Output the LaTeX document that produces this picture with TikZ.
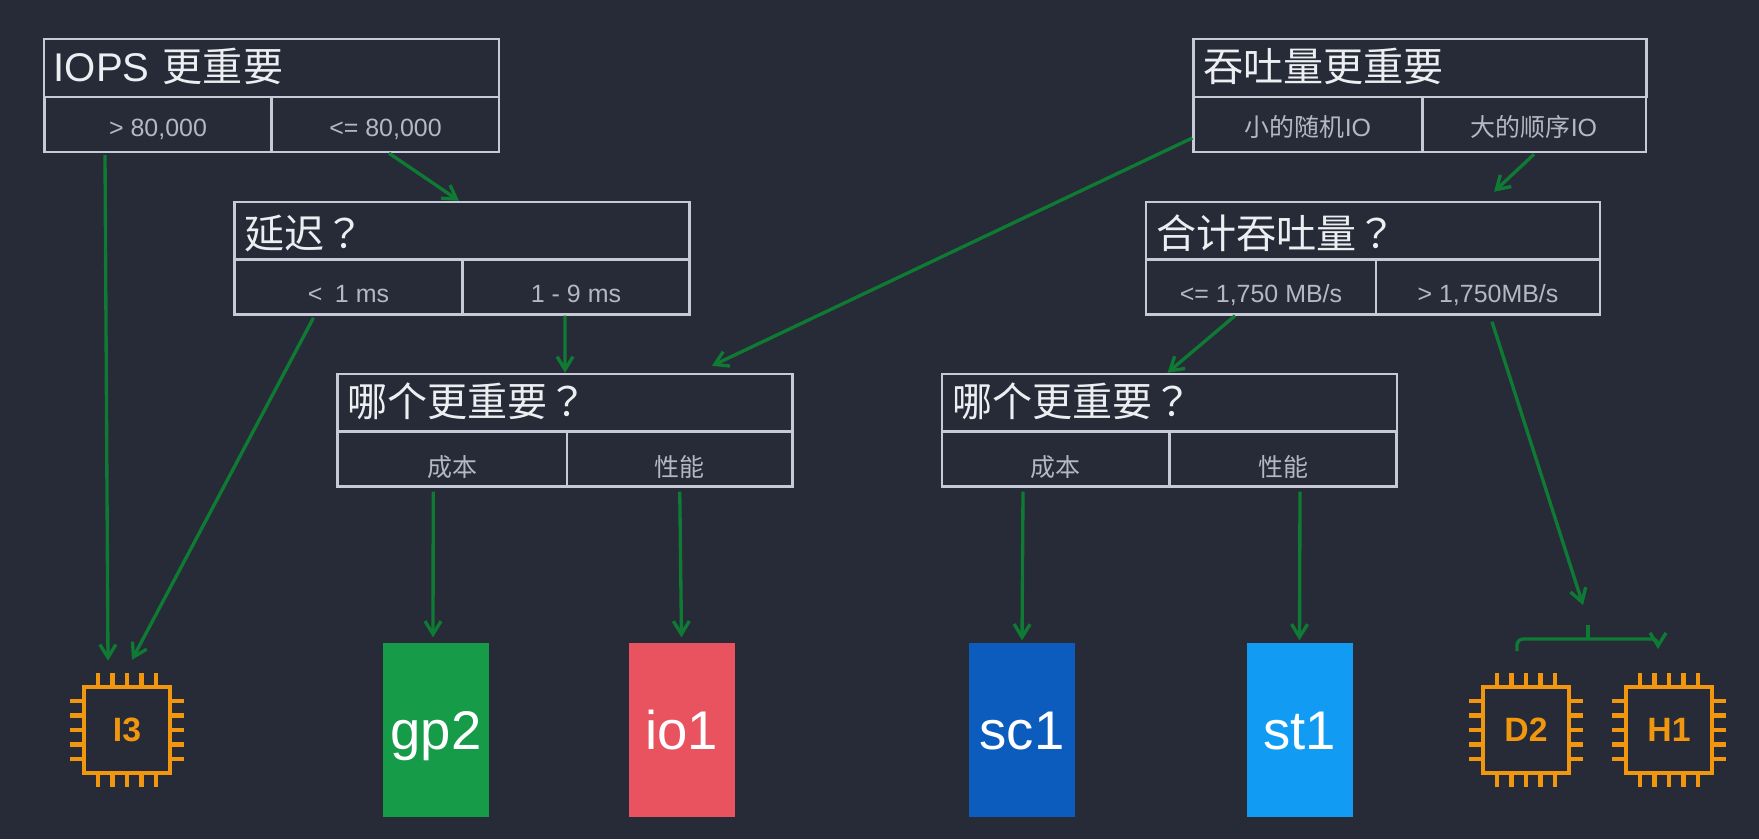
\documentclass[tikz,border=0pt]{standalone}
\usepackage{fontspec}
\setmainfont{Liberation Sans}
\newfontfamily\cjk{Noto Sans CJK SC}
\newfontfamily\cjktc{Noto Sans CJK TC}
\usetikzlibrary{arrows.meta}
\newcommand{\qmk}{{\cjktc ？}}

\definecolor{bgdark}{HTML}{262B37}
\definecolor{boxline}{HTML}{C6CAD6}
\definecolor{titletext}{HTML}{ECEEF2}
\definecolor{celltext}{HTML}{B4B8C2}
\definecolor{flowgreen}{HTML}{0F7A33}
\definecolor{chiporange}{HTML}{F0960F}

\begin{document}
\begin{tikzpicture}[
  headbox/.style={rectangle,draw=boxline,line width=0.7pt,text=titletext,inner xsep=0.1cm,inner ysep=0pt,text width=4.35cm,
    minimum height=0.58cm,align=left,text height=0.34cm,text depth=0.08cm,font=\cjk\fontsize{11.4}{13}\selectfont},
  cellbox/.style={rectangle,draw=boxline,line width=0.7pt,text=celltext,inner sep=0pt,minimum width=2.27cm,
    minimum height=0.55cm,text height=0.24cm,text depth=0pt,font=\fontsize{7.1}{8}\selectfont},
  diskbox/.style={rectangle,inner sep=0pt,minimum width=1.06cm,minimum height=1.74cm,text=white,
    text height=0.38cm,text depth=0pt,font=\fontsize{15.5}{17}\selectfont},
  chipbox/.style={rectangle,draw=chiporange,line width=1.3pt,inner sep=0pt,minimum size=0.86cm,text=chiporange,
    font=\bfseries\fontsize{9.6}{11}\selectfont},
  chippin/.style={draw=chiporange,line width=1.2pt},
  flow/.style={draw=flowgreen,line width=0.95pt},
  flowtip/.style={flow,-{Straight Barb[length=1.3mm,width=1.6mm]}}]

\fill[bgdark] (0,0) rectangle (17.59,8.39);
\useasboundingbox (0,0) rectangle (17.59,8.39);

% left column of questions
\node[headbox] (iops) at (2.713,7.71) {{\rmfamily IOPS} 更重要};
\node[cellbox] (iopsbig) at (1.58,7.145) {> 80,000};
\node[cellbox] (iopssmall) at (3.855,7.145) {<= 80,000};

\node[headbox,text height=0.42cm] (delay) at (4.62,6.08) {延迟\qmk};
\node[cellbox,minimum width=2.28cm,text height=0.3cm] (delayfast) at (3.485,5.52) {<\enspace 1 ms};
\node[cellbox,text height=0.3cm] (delayslow) at (5.76,5.52) {1 - 9 ms};

\node[headbox] (which) at (5.65,4.36) {哪个更重要\qmk};
\node[cellbox,minimum width=2.295cm,text height=0.34cm] (whichcost) at (4.5225,3.80) {\cjk 成本};
\node[cellbox,minimum width=2.255cm,text height=0.34cm] (whichperf) at (6.7975,3.80) {\cjk 性能};

% right column of questions
\node[headbox,text width=4.33cm] (thru) at (14.20,7.71) {吞吐量更重要};
\node[cellbox,minimum width=2.29cm] (thrusmall) at (13.08,7.145) {{\cjk 小的随机}IO};
\node[cellbox,minimum width=2.24cm] (thrubig) at (15.34,7.145) {{\cjk 大的顺序}IO};

\node[headbox,text width=4.34cm,text height=0.42cm] (total) at (13.73,6.08) {合计吞吐量\qmk};
\node[cellbox,minimum width=2.3cm,text height=0.3cm] (totallow) at (12.61,5.52) {<= 1,750 MB/s};
\node[cellbox,minimum width=2.24cm,text height=0.3cm] (totalhigh) at (14.88,5.52) {> 1,750MB/s};

\node[headbox] (whichb) at (11.695,4.36) {哪个更重要\qmk};
\node[cellbox,text height=0.34cm] (whichbcost) at (10.555,3.80) {\cjk 成本};
\node[cellbox,text height=0.34cm] (whichbperf) at (12.83,3.80) {\cjk 性能};

% volumes
\node[diskbox,fill={rgb,255:red,22;green,155;blue,72}] (gptwo) at (4.36,1.09) {gp2};
\node[diskbox,fill={rgb,255:red,233;green,83;blue,95}] (ioone) at (6.815,1.09) {io1};
\node[diskbox,fill={rgb,255:red,11;green,92;blue,189}] (scone) at (10.22,1.09) {sc1};
\node[diskbox,fill={rgb,255:red,18;green,155;blue,242}] (stone) at (12.995,1.09) {st1};

% instances
\foreach \n/\cx/\t in {ithree/1.27/I3,dtwo/15.26/D2,hone/16.69/H1}
{
  \node[chipbox] (\n) at (\cx,1.09) {\t};
  \foreach \p in {-2,...,2}
  {
    \draw[chippin] ([xshift=\p*0.145cm]\n.north) -- ++(0,0.115);
    \draw[chippin] ([xshift=\p*0.145cm]\n.south) -- ++(0,-0.115);
    \draw[chippin] ([yshift=\p*0.145cm]\n.west) -- ++(-0.115,0);
    \draw[chippin] ([yshift=\p*0.145cm]\n.east) -- ++(0.115,0);
  }
}

\coordinate (brktip) at (15.83,2.34);
\coordinate (brkstem) at (15.88,2.14);
\coordinate (brkjoin) at (15.88,2.00);
\coordinate (brkleft) at (15.17,1.88);
\coordinate (brkturn) at (16.58,2.00);
\coordinate (brkright) at (16.58,1.90);

\draw[flowtip] ([xshift=-0.53cm,yshift=-0.02cm]iopsbig.south) -- ([xshift=-0.19cm,yshift=0.24cm]ithree.north);
\draw[flowtip] ([xshift=-0.35cm,yshift=-0.02cm]delayfast.south) -- ([xshift=0.05cm,yshift=0.25cm]ithree.north);
\draw[flowtip] ([xshift=0.035cm]iopssmall.south) -- ([xshift=-0.03cm]delay.north);
\draw[flowtip] ([xshift=-0.11cm]delayslow.south) -- (which.north);
\draw[flowtip] ([yshift=-0.135cm]thrusmall.west) -- ([xshift=1.47cm,yshift=0.07cm]which.north);
\draw[flowtip] ([yshift=-0.01cm]thrubig.south) -- ([xshift=1.21cm,yshift=0.09cm]total.north);
\draw[flowtip] ([xshift=-0.26cm]totallow.south) -- ([xshift=-0.02cm]whichb.north);
\draw[flowtip] ([xshift=0.04cm,yshift=-0.06cm]totalhigh.south) -- (brktip);

\draw[flowtip] ([xshift=-0.19cm,yshift=-0.04cm]whichcost.south) -- ([xshift=-0.03cm,yshift=0.05cm]gptwo.north);
\draw[flowtip] ([yshift=-0.04cm]whichperf.south) -- ([yshift=0.05cm]ioone.north);
\draw[flowtip] ([xshift=-0.325cm,yshift=-0.04cm]whichbcost.south) -- ([yshift=0.02cm]scone.north);
\draw[flowtip] ([xshift=0.17cm,yshift=-0.04cm]whichbperf.south) -- ([yshift=0.02cm]stone.north);

\draw[flow] (brkstem) -- (brkjoin);
\draw[flowtip,rounded corners=0.06cm] (brkleft) |- (brkturn) -- (brkright);
\end{tikzpicture}
\end{document}
